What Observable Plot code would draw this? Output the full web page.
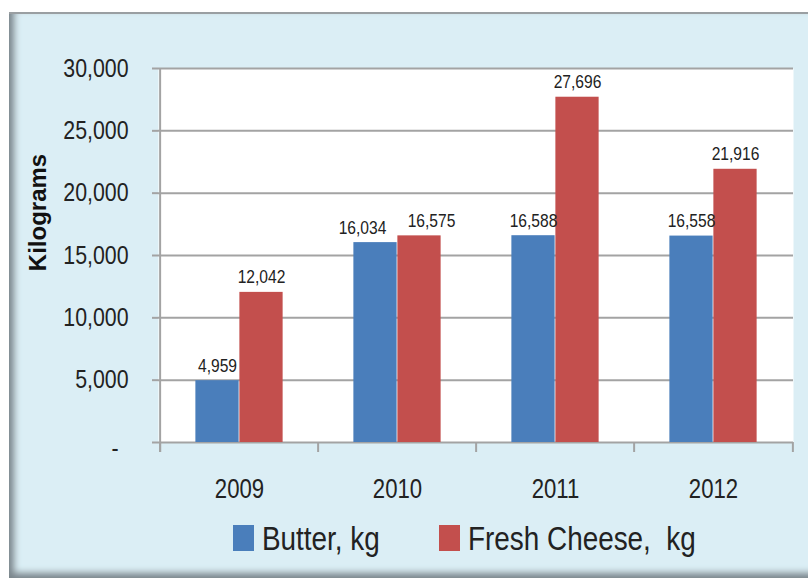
<!DOCTYPE html>
<html>
<head>
<meta charset="utf-8">
<script src="https://cdn.jsdelivr.net/npm/d3@7"></script>
<script src="https://cdn.jsdelivr.net/npm/@observablehq/plot@0.6"></script>
<style>
  html, body { margin: 0; padding: 0; background: #ffffff; }
  body { width: 808px; height: 578px; position: relative; overflow: hidden;
         font-family: "Liberation Sans", Arial, sans-serif; }
  #frame { position: absolute; left: 9px; top: 12px; width: 830px; height: 566px;
           background: #dbeef5; border-top: 2px solid #9a9fa2; box-sizing: border-box;
           box-shadow: inset 10px 0 7px -5px #7b868c, inset 0 -10px 7px -5px #7b868c; }
  #chart { position: absolute; left: 0; top: 0; }
  #legend { position: absolute; left: 233px; top: 521px; display: flex; align-items: center;
            font-size: 34px; color: #222; white-space: pre; line-height: 1; }
  .sw { width: 21px; height: 26px; display: inline-block; margin-right: 8px; }
  .item { display: flex; align-items: center; }
  .lt { display: inline-block; transform: scaleX(0.82); transform-origin: left center; }
</style>
</head>
<body>
<div id="frame"></div>
<div id="chart"></div>
<div id="legend"></div>
<script>
const years = ["2009", "2010", "2011", "2012"];
const butter = [4959, 16034, 16588, 16558];
const cheese = [12042, 16575, 27696, 21916];
const seriesNames = ["Butter, kg", "Fresh Cheese,  kg"];
const seriesColors = ["#4a7ebb", "#c34f4d"];
const yTicks = [0, 5000, 10000, 15000, 20000, 25000, 30000];
const yTitle = "Kilograms";

const W = 808, H = 510, mL = 158, mR = 15, mT = 68, mB = 68;
const bw = (W - mL - mR) / years.length;
const barW = 44;
const squeeze = 0.82;
const fmt = d3.format(",");
const font = '"Liberation Sans", Arial, sans-serif';
const grid = "#a3a3a3";

// nudge the two value labels of a year apart when they would collide
const close = years.map((_, i) => Math.abs(butter[i] - cheese[i]) < 2000);
const dxB = close.map(c => -barW / 2 - (c ? 13 : 0));
const dxC = close.map(c => barW / 2 + (c ? 12 : 0));

const chart = Plot.plot({
  width: W, height: H,
  marginLeft: mL, marginRight: mR, marginTop: mT, marginBottom: mB,
  style: { background: "transparent", fontFamily: font, overflow: "visible" },
  x: { type: "band", domain: years, padding: 0, axis: null },
  y: { domain: [0, 30000], axis: null },
  marks: [
    Plot.frame({ fill: "white", stroke: "none" }),
    Plot.ruleY(yTicks, { stroke: grid, strokeWidth: 2 }),
    Plot.barY(years, { x: years, y: butter, fill: seriesColors[0], insetLeft: bw / 2 - barW, insetRight: bw / 2 }),
    Plot.barY(years, { x: years, y: cheese, fill: seriesColors[1], insetLeft: bw / 2, insetRight: bw / 2 - barW }),
    ...years.map((yr, i) => Plot.text([yr], { x: d => d, y: () => butter[i], text: () => fmt(butter[i]), dx: dxB[i], dy: -9, lineAnchor: "bottom", fontSize: 19, fill: "#222", className: "sq" })),
    ...years.map((yr, i) => Plot.text([yr], { x: d => d, y: () => cheese[i], text: () => fmt(cheese[i]), dx: dxC[i], dy: -9, lineAnchor: "bottom", fontSize: 19, fill: "#222", className: "sq" })),
    Plot.ruleX([years[0]], { x: d => d, dx: -bw / 2, stroke: grid, strokeWidth: 2, insetBottom: -10 }),
    Plot.ruleX(years, { x: d => d, dx: -bw / 2, y1: () => 0, y2: () => 0, stroke: grid, strokeWidth: 2, insetBottom: -10 }),
    Plot.ruleX([years[years.length - 1]], { x: d => d, dx: bw / 2, y1: () => 0, y2: () => 0, stroke: grid, strokeWidth: 2, insetBottom: -10 }),
    Plot.axisY({ ticks: yTicks, tickSize: 6, tickPadding: 24, stroke: grid, strokeWidth: 2, fill: "#222", fontSize: 26,
                 tickFormat: d => d === 0 ? "" : fmt(d), label: null, className: "sq" }),
    Plot.axisY({ ticks: [0], tickSize: 0, tickPadding: 40, dy: 6, fill: "#222", fontSize: 26,
                 tickFormat: () => "-", label: null, className: "sq" }),
    Plot.axisX({ tickSize: 0, tickPadding: 36, fontSize: 27, fill: "#222", label: null, className: "sq" }),
    Plot.text([yTitle], { frameAnchor: "left", textAnchor: "middle", dx: -120, dy: -43, rotate: -90, fontSize: 24, fontWeight: "bold",
                          fill: "#111" })
  ]
});
document.getElementById("chart").appendChild(chart);

// condense the labels to match the narrow face of the reference
chart.querySelectorAll("text").forEach(t => {
  let el = t, inSq = false;
  while (el && el !== chart) { if (el.classList && el.classList.contains("sq")) { inSq = true; break; } el = el.parentNode; }
  if (!inSq) return;
  const len = t.getComputedTextLength();
  if (len > 0) {
    t.setAttribute("textLength", (len * squeeze).toFixed(2));
    t.setAttribute("lengthAdjust", "spacingAndGlyphs");
  }
});

const legend = document.getElementById("legend");
seriesNames.forEach((name, i) => {
  const item = document.createElement("div");
  item.className = "item";
  if (i > 0) item.style.marginLeft = "59px";
  const sw = document.createElement("span");
  sw.className = "sw";
  sw.style.background = seriesColors[i];
  const t = document.createElement("span");
  t.className = "lt";
  t.textContent = name;
  item.appendChild(sw);
  item.appendChild(t);
  legend.appendChild(item);
  const w = t.getBoundingClientRect().width / squeeze;
  t.style.marginRight = (-(1 - squeeze) * w).toFixed(2) + "px";
});
</script>
</body>
</html>
